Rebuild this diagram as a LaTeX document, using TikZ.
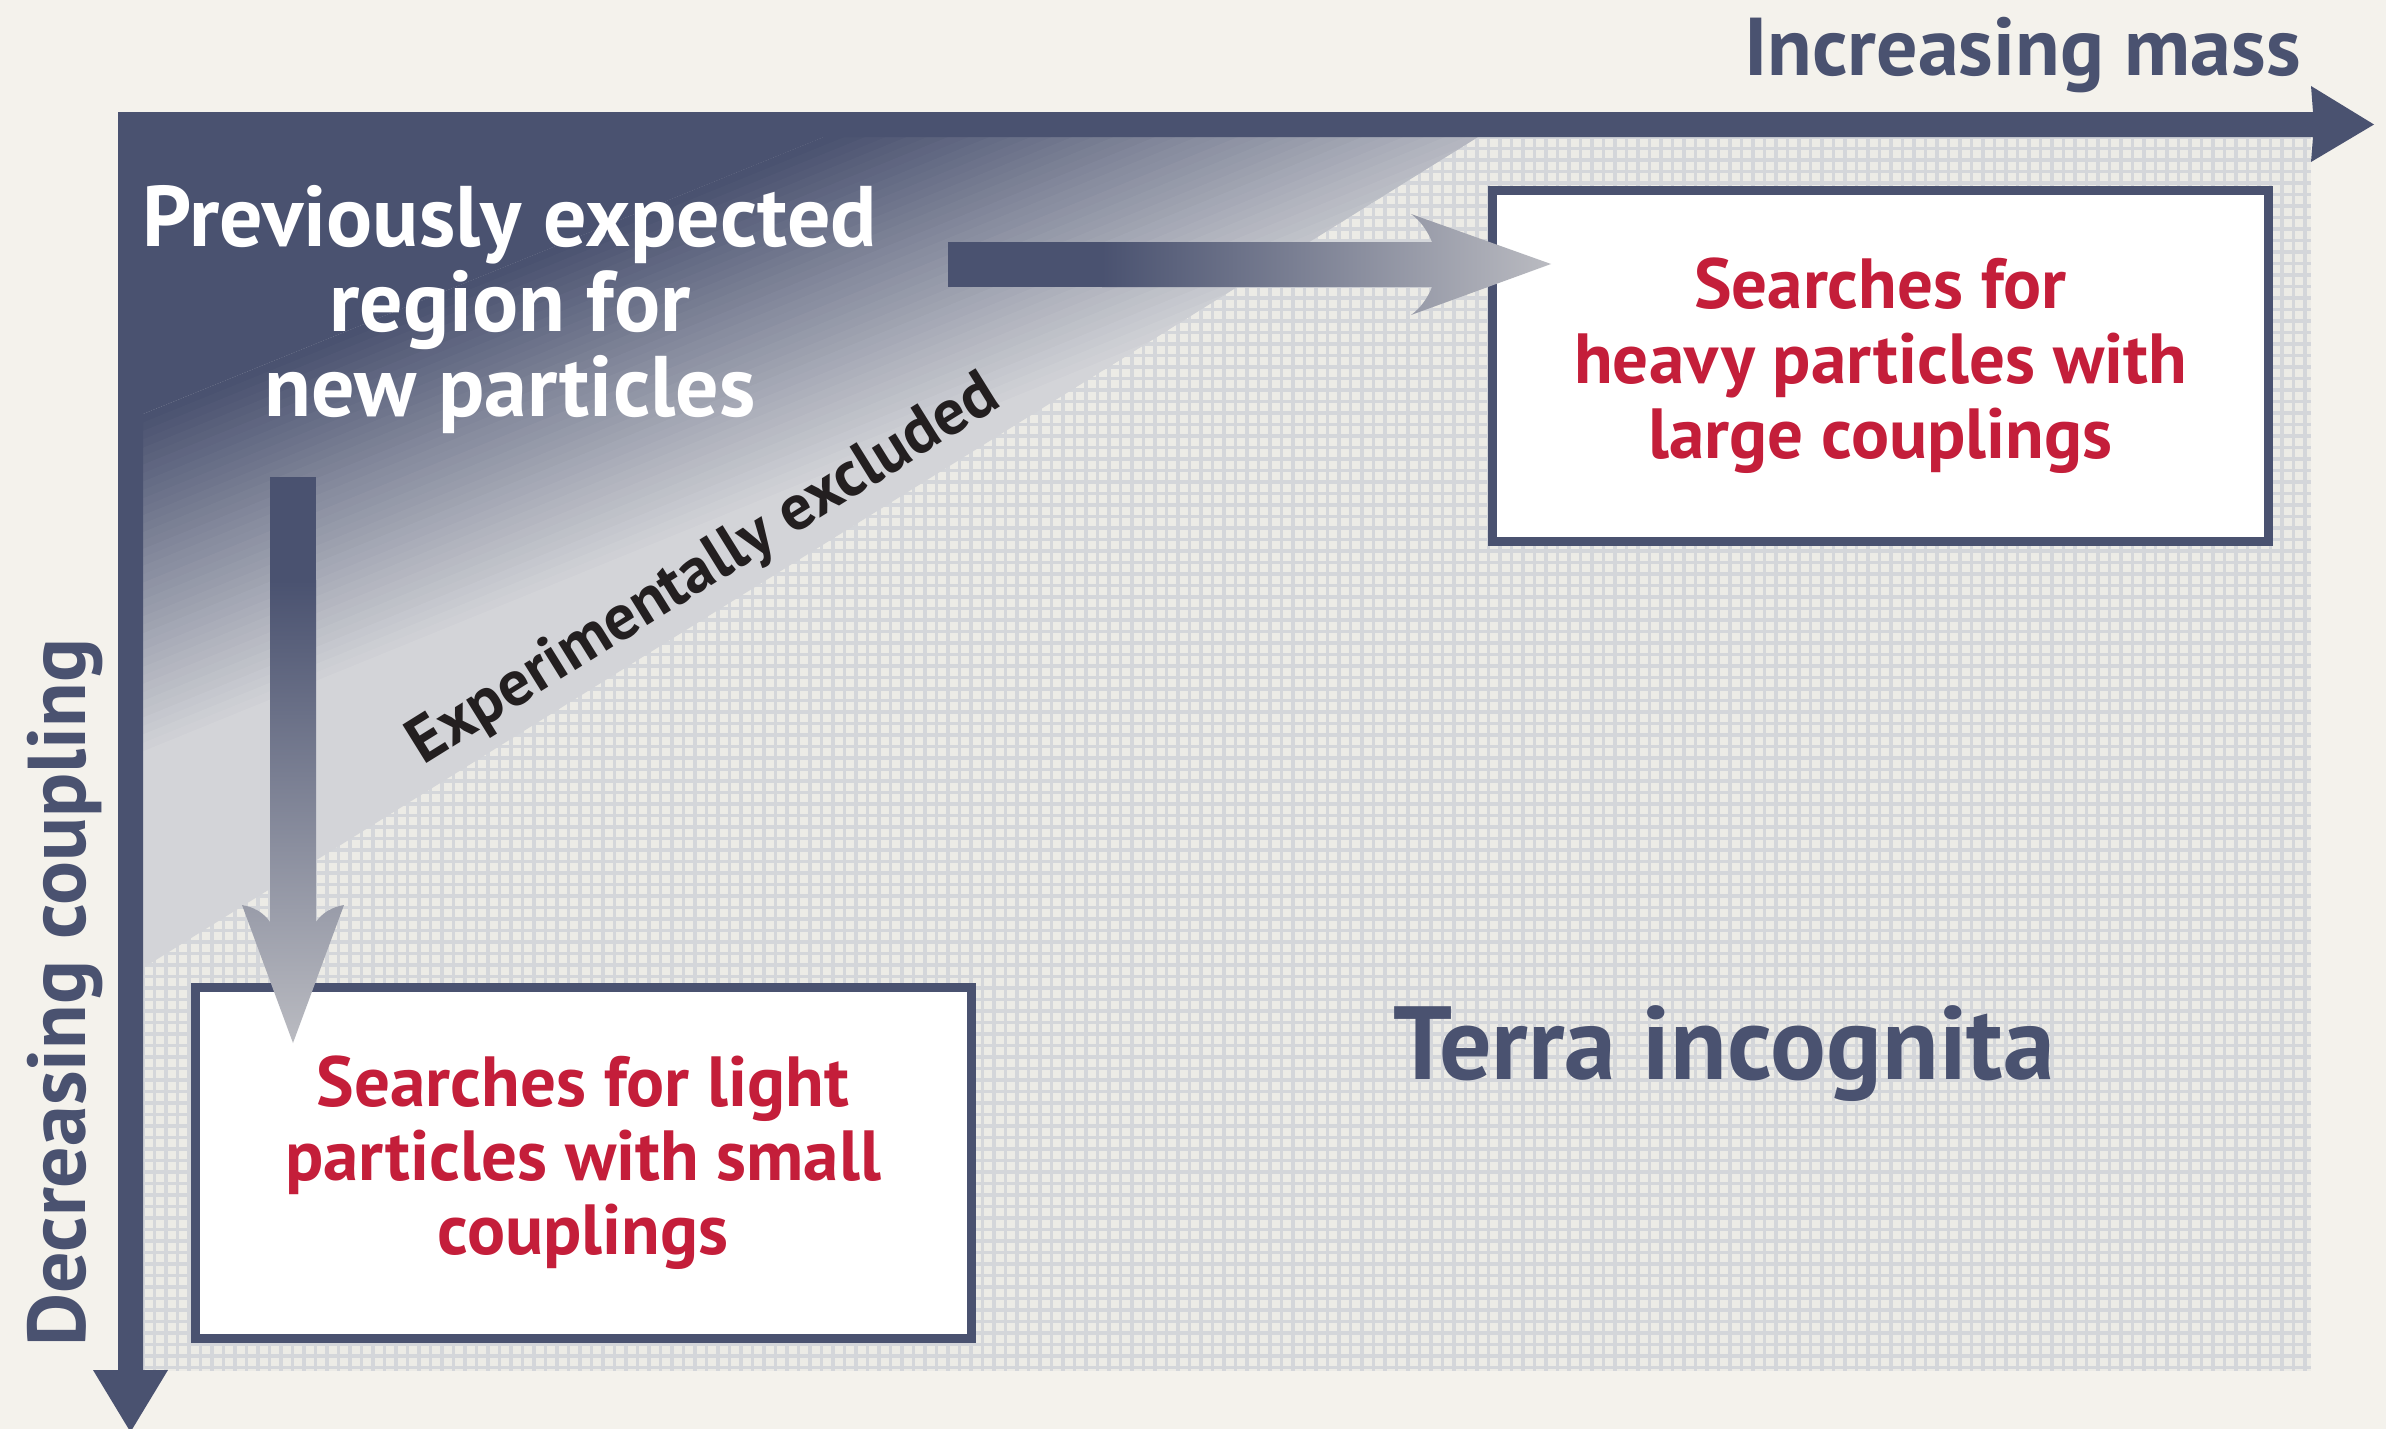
\documentclass[tikz,border=0pt]{standalone}
\usepackage{fontspec}
\setmainfont{PT Sans}
\usetikzlibrary{calc}
\definecolor{slate}{RGB}{74,82,112}
\definecolor{searchred}{RGB}{196,30,58}
\definecolor{paper}{RGB}{244,242,236}
\definecolor{gridbg}{RGB}{236,235,230}
\definecolor{gridgrey}{RGB}{212,214,218}
\definecolor{exlight}{RGB}{211,212,216}
\definecolor{arrowlight}{RGB}{186,187,193}
\definecolor{inkblack}{RGB}{35,31,32}
\tikzset{
	gridline/.style={line width=3.4pt, color=gridgrey},
	axislabel/.style={text=slate, inner sep=0pt, font=\fontsize{82}{90}\selectfont\bfseries},
	searchbox/.style={draw=slate, fill=white, line width=9pt, minimum width=776pt, minimum height=351pt,
		inner sep=0pt, text=searchred, align=center, font=\fontsize{71}{75}\selectfont\bfseries},
}

\begin{document}
\begin{tikzpicture}[x=1pt, y=-1pt]
		%%%%% START %%%%%
		\useasboundingbox (0,0) rectangle (2386,1429);
		\fill[paper] (0,0) rectangle (2386,1429);
		
		% terra incognita grid
		\fill[gridbg] (143,137) rectangle (2311,1371);
		\begin{scope}
			\clip (143,137) rectangle (2311,1371);
			\foreach \i in {0,...,189} \draw[gridline] ({143+11.5*\i},137) -- ({143+11.5*\i},1371);
			\foreach \i in {0,...,108} \draw[gridline] (143,{137+11.5*\i}) -- (2311,{137+11.5*\i});
		\end{scope}
		
		% excluded triangle, shaded in bands
		\begin{scope}
			\clip (143,137) -- (1478,137) -- (143,968) -- cycle;
			\fill[exlight] (143,137) rectangle (1478,968);
			\fill[slate] (143,137) -- (824,137) -- (143,414) -- cycle;
			\foreach \i [evaluate=\i as \wa using 277+8.43*\i, evaluate=\i as \p using int(\i*2.5)] in {0,...,40}
				\fill[exlight!\p!slate] ({143+\wa/0.407},137) -- ({143+(\wa+9.5)/0.407},137) -- (143,{137+\wa+9.5}) -- (143,{137+\wa}) -- cycle;
		\end{scope}
		
		% axes
		\fill[slate] (118,112) -- (2313,112) -- (2311,86) -- (2374,124.5) -- (2311,162) -- (2313,137)
			-- (143,137) -- (143,1370) -- (168,1370) -- (130.5,1432) -- (93,1370) -- (118,1370) -- cycle;
		
		\node[axislabel, anchor=base east] (xlabel) at (2301,75) {Increasing mass};
		\node[axislabel, rotate=90, anchor=base west] (ylabel) at (85,1347) {Decreasing coupling};
		
		\node[text=white, inner sep=0pt, align=center, font=\fontsize{86}{85}\selectfont\bfseries] (prevtext) at (510,310)
			{Previously expected\\region for\\new particles};
		\node[text=inkblack, inner sep=0pt, rotate=31.9, anchor=base, font=\fontsize{64.5}{70}\selectfont\bfseries] (excltext) at (713,585)
			{Experimentally excluded};
		\node[text=slate, inner sep=0pt, anchor=base west, font=\fontsize{104}{110}\selectfont\bfseries] (terratext) at (1393,1079)
			{Terra incognita};
		
		\node[searchbox] (heavybox) at (1880.5,366) {Searches for\\heavy particles with\\large couplings};
		\node[searchbox, font=\fontsize{71}{74}\selectfont\bfseries] (lightbox) at (583,1162.5) {Searches for light\\particles with small\\couplings};
		
		% block arrows
		\fill[slate] (948,242) rectangle (1103,287);
		\shade[left color=slate, right color=arrowlight] (1102,242) -- (1432,242) .. controls (1428,232) and (1421,221) .. (1411,214)
			-- (1551,264) -- (1411,315) .. controls (1421,308) and (1428,297) .. (1432,287) -- (1102,287) -- cycle;
		\fill[slate] (270,477) rectangle (316,581);
		\shade[top color=slate, bottom color=arrowlight] (270,580) -- (316,580) -- (316,922) .. controls (322,913) and (332,907) .. (344,905)
			-- (293,1043) -- (242,905) .. controls (254,907) and (264,913) .. (270,922) -- cycle;
		
		%%%%% END %%%%%
\end{tikzpicture}
\end{document}
